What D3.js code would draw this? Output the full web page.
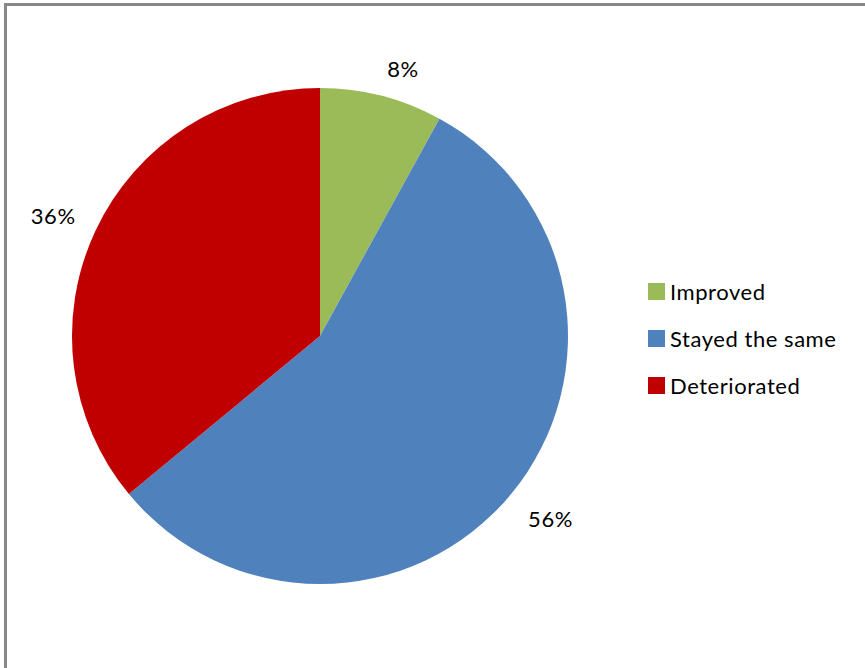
<!DOCTYPE html>
<html>
<head>
<meta charset="utf-8">
<script src="https://cdn.jsdelivr.net/npm/d3@7"></script>
<style>
  html, body { margin: 0; padding: 0; background: #fff; }
  svg { display: block; }
</style>
</head>
<body>
<svg id="chart" width="865" height="668"></svg>
<script>
// Share of responses by outcome
const categories = ["Improved", "Stayed the same", "Deteriorated"];
const values = [8, 56, 36];
const labels = ["8%", "56%", "36%"];
const colors = ["#9BBB59", "#4F81BD", "#C00000"];

const width = 865, height = 668;
const svg = d3.select("#chart");
const font = "Lato, 'Open Sans', sans-serif";

// Frame (right and bottom edges fall outside the view)
svg.append("rect")
  .attr("x", 5.5).attr("y", 4.5)
  .attr("width", 900).attr("height", 700)
  .attr("fill", "#fff")
  .attr("stroke", "#888888")
  .attr("stroke-width", 3);

const cx = 320, cy = 336, r = 248;
const g = svg.append("g").attr("transform", `translate(${cx},${cy})`);

const data = categories.map((c, i) => ({ name: c, value: values[i], label: labels[i], color: colors[i] }));
const pie = d3.pie().value(d => d.value).sort(null);
const arc = d3.arc().innerRadius(0).outerRadius(r);
const arcs = pie(data);

g.selectAll("path.slice")
  .data(arcs)
  .join("path")
  .attr("class", "slice")
  .attr("d", arc)
  .attr("fill", d => d.data.color);

// Outside-end labels: box corner rests just beyond the rim at the mid-angle
const gap = 22, fontSize = 22;
g.selectAll("text.pct")
  .data(arcs)
  .join("text")
  .attr("class", "pct")
  .attr("font-family", font)
  .attr("font-size", fontSize)
  .attr("letter-spacing", 0.6)
  .attr("fill", "#000")
  .attr("text-anchor", "middle")
  .attr("dominant-baseline", "central")
  .text(d => d.data.label)
  .each(function(d) {
    const a = (d.startAngle + d.endAngle) / 2;
    const s = Math.sin(a), c = Math.cos(a);
    const bb = this.getBBox();
    const px = (r + gap) * s, py = -(r + gap) * c;
    const x = px + Math.sign(s) * bb.width / 2;
    const y = py - Math.sign(c) * 8 + 2;
    d3.select(this).attr("x", x).attr("y", y);
  });

// Legend
const legend = svg.append("g").attr("transform", "translate(648,283)");
const rowH = 47;
const rows = legend.selectAll("g.row")
  .data(data)
  .join("g")
  .attr("class", "row")
  .attr("transform", (d, i) => `translate(0,${i * rowH})`);
rows.append("rect")
  .attr("width", 17).attr("height", 17)
  .attr("fill", d => d.color);
rows.append("text")
  .attr("x", 22).attr("y", 8.5)
  .attr("dominant-baseline", "central")
  .attr("font-family", font)
  .attr("font-size", 22)
  .attr("letter-spacing", 0.55)
  .attr("fill", "#000")
  .text(d => d.name);
</script>
</body>
</html>
